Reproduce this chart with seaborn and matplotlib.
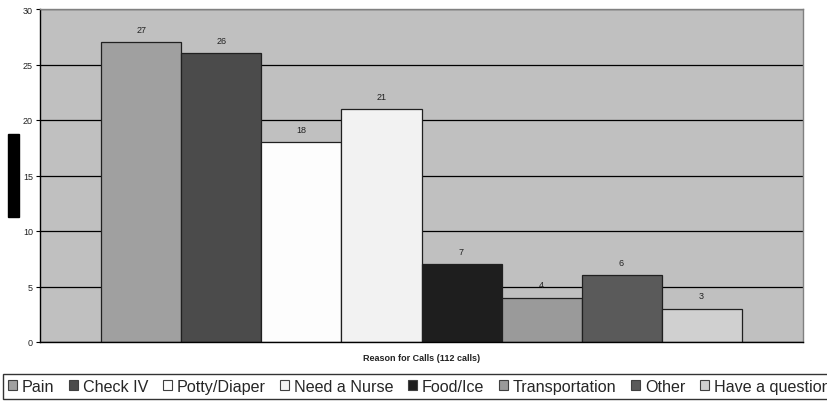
import matplotlib
matplotlib.use("Agg")
import matplotlib.pyplot as plt
from matplotlib.patches import Patch, Rectangle
import seaborn as sns
import pandas as pd

reasons = ["Pain", "Check IV", "Potty/Diaper", "Need a Nurse", "Food/Ice",
           "Transportation", "Other", "Have a question"]
calls = [27, 26, 18, 21, 7, 4, 6, 3]
colors = ["#a0a0a0", "#4b4b4b", "#fdfdfd", "#f2f2f2", "#1e1e1e",
          "#9a9a9a", "#5a5a5a", "#d0d0d0"]
group_label = "Reason for Calls (112 calls)"
y_ticks = [0, 5, 10, 15, 20, 25, 30]

sns.set_theme(style="white")
plt.rcParams["font.family"] = ["Liberation Sans", "DejaVu Sans"]

df = pd.DataFrame({"group": [group_label] * len(reasons),
                   "reason": reasons, "calls": calls})

fig = plt.figure(figsize=(8.27, 4.02), dpi=100)
ax = fig.add_axes([40 / 827, 1 - 343 / 402, 763 / 827, 333 / 402])
ax.set_facecolor("#c0c0c0")

sns.barplot(data=df, x="group", y="calls", hue="reason", hue_order=reasons,
            palette=colors, width=0.839, dodge=True, gap=0,
            edgecolor="#202020", linewidth=0.9, saturation=1, ax=ax)
if ax.get_legend() is not None:
    ax.get_legend().remove()

for cont in ax.containers:
    ax.bar_label(cont, padding=6, fontsize=6.5, color="#222222")

ax.set_xlim(-0.5, 0.5)
ax.set_ylim(0, 30)
ax.set_yticks(y_ticks)
ax.yaxis.grid(True, color="black", linewidth=0.9)
ax.set_axisbelow(True)
ax.set_xlabel("")
ax.set_ylabel("")
ax.tick_params(axis="y", labelsize=6.5, length=3, width=0.8, color="black",
               left=True, pad=2, labelcolor="#222222")
ax.tick_params(axis="x", length=0, pad=8)
for lbl in ax.get_xticklabels():
    lbl.set_fontsize(6.5)
    lbl.set_fontweight("bold")
    lbl.set_color("#222222")

for side in ["left", "bottom"]:
    ax.spines[side].set_color("black")
    ax.spines[side].set_linewidth(1.0)
for side in ["top", "right"]:
    ax.spines[side].set_color("#808080")
    ax.spines[side].set_linewidth(1.0)

# vertical axis title box
fig.patches.append(Rectangle((8 / 827, 1 - 218 / 402), 11 / 827, 83 / 402,
                             transform=fig.transFigure, color="black"))

handles = [Patch(facecolor=c, edgecolor="#404040", linewidth=0.8) for c in colors]
leg = fig.legend(handles, reasons, loc="upper left",
                 bbox_to_anchor=(3 / 827, 1 - 375 / 402), ncol=len(reasons),
                 fontsize=11.6, frameon=True, fancybox=False,
                 handlelength=0.55, handleheight=0.55, handletextpad=0.3,
                 columnspacing=0.92, borderpad=0.3, borderaxespad=0)
leg.get_frame().set_edgecolor("black")
leg.get_frame().set_linewidth(1.0)
leg.get_frame().set_facecolor("white")

fig.savefig("out.png", dpi=100)
